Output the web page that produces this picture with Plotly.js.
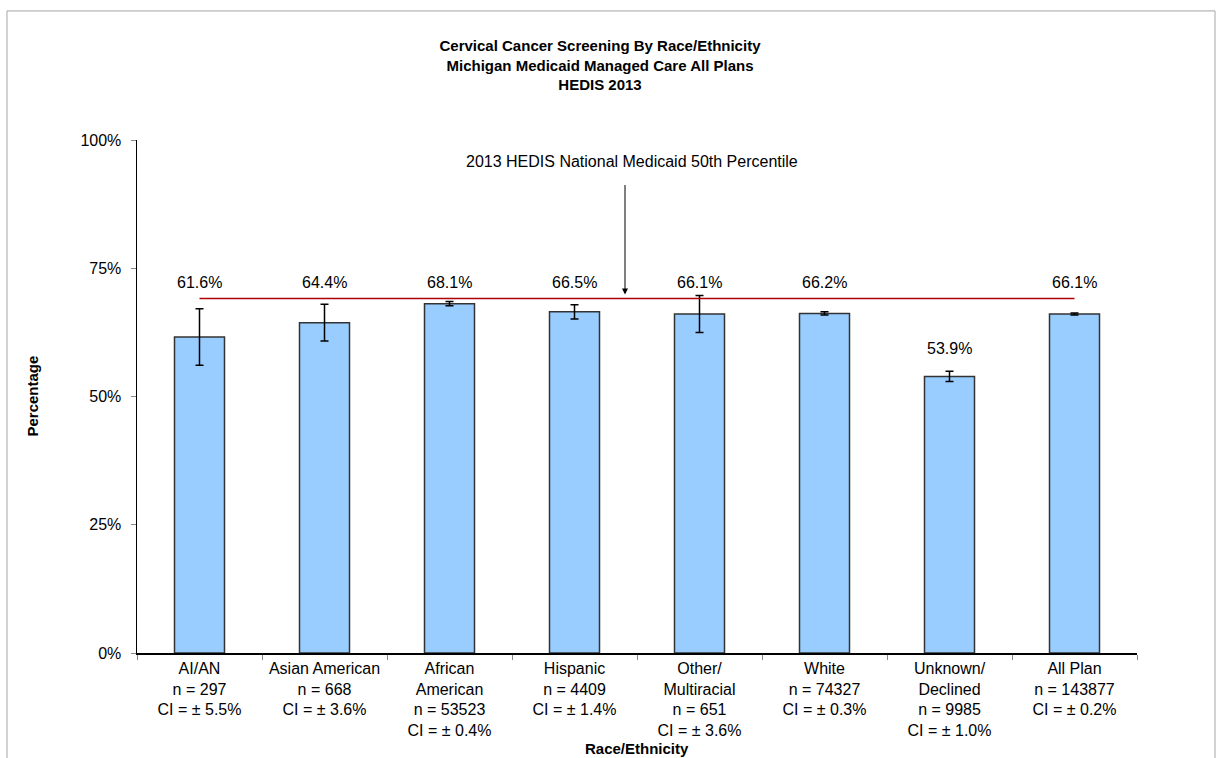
<!DOCTYPE html>
<html>
<head>
<meta charset="utf-8">
<script src="https://cdn.plot.ly/plotly-3.0.1.min.js"></script>
<style>html,body{margin:0;padding:0;background:#fff;}#chart{width:1221px;height:758px;}</style>
</head>
<body>
<div id="chart"></div>
<script>
const categories = ["AI/AN", "Asian American", "African American", "Hispanic", "Other/Multiracial", "White", "Unknown/Declined", "All Plan"];
const categoryLabels = ["AI/AN", "Asian American", "African<br>American", "Hispanic", "Other/<br>Multiracial", "White", "Unknown/<br>Declined", "All Plan"];
const rates = [61.6, 64.4, 68.1, 66.5, 66.1, 66.2, 53.9, 66.1];
const sampleSizes = [297, 668, 53523, 4409, 651, 74327, 9985, 143877];
const confidence = [5.5, 3.6, 0.4, 1.4, 3.6, 0.3, 1.0, 0.2];
const benchmark = 69.1;
const benchmarkLabel = "2013 HEDIS National Medicaid 50th Percentile";

const FONT = "Liberation Sans, Arial, sans-serif";

const tickText = categories.map((c, i) =>
  categoryLabels[i] + "<br>n = " + sampleSizes[i] + "<br>CI = ± " + confidence[i].toFixed(1) + "%");

const bars = {
  type: "bar",
  x: categories,
  y: rates,
  marker: { color: "#99ccff", line: { color: "#333333", width: 1.5 } },
  error_y: { type: "data", array: confidence, visible: true, color: "#000000", thickness: 1.5, width: 4 },
  hoverinfo: "x+y",
  showlegend: false
};

const benchLine = {
  type: "scatter",
  mode: "lines",
  x: [categories[0], categories[categories.length - 1]],
  y: [benchmark, benchmark],
  line: { color: "#b00000", width: 1.5 },
  hoverinfo: "skip",
  showlegend: false
};

const annotations = rates.map((v, i) => {
  const top = v + confidence[i];
  const nearLine = top > benchmark - 5;
  return {
    x: categories[i], y: nearLine ? benchmark : top, xref: "x", yref: "y",
    text: v.toFixed(1) + "%", showarrow: false, yanchor: "middle",
    yshift: nearLine ? 16 : 23,
    font: { family: FONT, size: 16, color: "#000" }
  };
});

annotations.push({
  xref: "paper", yref: "paper", x: 0.4947, y: (652.7 - 161.7) / 512.7,
  text: benchmarkLabel, showarrow: false, xanchor: "center", yanchor: "middle",
  font: { family: FONT, size: 16, color: "#000" }
});
annotations.push({
  xref: "paper", yref: "y", x: 0.488, y: benchmark,
  text: "", showarrow: true, arrowhead: 2, arrowsize: 1.2, arrowwidth: 1,
  arrowcolor: "#000", ax: 0, ay: -115, standoff: 4
});
annotations.push({
  xref: "paper", yref: "paper", x: -0.105, y: 0.5,
  text: "<b>Percentage</b>", textangle: -90, showarrow: false,
  xanchor: "center", yanchor: "middle",
  font: { family: FONT, size: 15, color: "#000" }
});
annotations.push({
  xref: "paper", yref: "paper", x: 0.5, y: (652.7 - 748) / 512.7,
  text: "<b>Race/Ethnicity</b>", showarrow: false,
  xanchor: "center", yanchor: "middle",
  font: { family: FONT, size: 15, color: "#000" }
});

const layout = {
  width: 1221, height: 758,
  paper_bgcolor: "#ffffff", plot_bgcolor: "#ffffff",
  margin: { l: 137, r: 84, t: 140, b: 105, pad: 0 },
  font: { family: FONT, size: 16, color: "#000" },
  title: {
    text: "<b>Cervical Cancer Screening By Race/Ethnicity<br>Michigan Medicaid Managed Care All Plans<br>HEDIS 2013</b>",
    x: 600 / 1221, xanchor: "center",
    y: 1 - 51 / 758, yanchor: "top",
    font: { family: FONT, size: 15, color: "#000" }
  },
  bargap: 0.6,
  xaxis: {
    type: "category",
    tickmode: "array", tickvals: categories, ticktext: tickText,
    tickson: "boundaries", ticks: "outside", ticklen: 5, tickcolor: "#888888",
    showline: true, linecolor: "#000", linewidth: 1.5,
    showgrid: false, zeroline: false,
    tickfont: { family: FONT, size: 16, color: "#000" },
    range: [-0.5, 7.5], fixedrange: true
  },
  yaxis: {
    range: [0, 100], dtick: 25, tick0: 0, ticksuffix: "%",
    ticks: "outside", ticklen: 5, tickcolor: "#888888",
    showline: true, linecolor: "#000", linewidth: 1.5,
    showgrid: false, zeroline: false,
    tickfont: { family: FONT, size: 16, color: "#000" },
    ticklabelstandoff: 6, fixedrange: true
  },
  annotations: annotations,
  shapes: [{
    type: "rect", xref: "paper", yref: "paper",
    x0: (7 - 137) / 1000, x1: (1215 - 137) / 1000,
    y0: -0.4, y1: (652.7 - 11) / 512.7,
    line: { color: "#a6a6a6", width: 1 }, fillcolor: "rgba(0,0,0,0)", layer: "below"
  }]
};

Plotly.newPlot("chart", [bars, benchLine], layout, { displayModeBar: false, staticPlot: true });
</script>
</body>
</html>
